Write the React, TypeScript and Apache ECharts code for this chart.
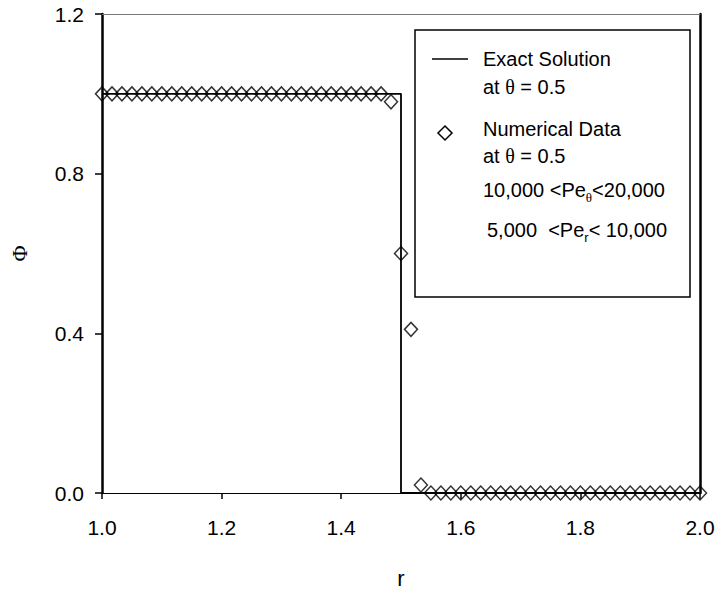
import React, { useEffect, useRef } from "react";
import * as echarts from "echarts";

// r grid positions of the numerical data
const rValues: number[] = [
  1.0, 1.0167, 1.0333, 1.05, 1.0667, 1.0833, 1.1, 1.1167, 1.1333, 1.15,
  1.1667, 1.1833, 1.2, 1.2167, 1.2333, 1.25, 1.2667, 1.2833, 1.3, 1.3167,
  1.3333, 1.35, 1.3667, 1.3833, 1.4, 1.4167, 1.4333, 1.45, 1.4667,
  1.4833, 1.5, 1.5167, 1.5333,
  1.55, 1.5667, 1.5833, 1.6, 1.6167, 1.6333, 1.65, 1.6667, 1.6833, 1.7,
  1.7167, 1.7333, 1.75, 1.7667, 1.7833, 1.8, 1.8167, 1.8333, 1.85, 1.8667,
  1.8833, 1.9, 1.9167, 1.9333, 1.95, 1.9667, 1.9833, 2.0,
];
// numerical Phi values at theta = 0.5
const phiNumerical: number[] = [
  1, 1, 1, 1, 1, 1, 1, 1, 1, 1,
  1, 1, 1, 1, 1, 1, 1, 1, 1, 1,
  1, 1, 1, 1, 1, 1, 1, 1, 1,
  0.98, 0.6, 0.41, 0.02,
  0, 0, 0, 0, 0, 0, 0, 0, 0, 0,
  0, 0, 0, 0, 0, 0, 0, 0, 0, 0,
  0, 0, 0, 0, 0, 0, 0, 0,
];
// exact (step) solution
const exactR: number[] = [1.0, 1.5, 1.5, 2.0];
const exactPhi: number[] = [1, 1, 0, 0];

const xTicks = { min: 1.0, max: 2.0, interval: 0.2 };
const yTicks = { min: 0.0, max: 1.2, interval: 0.4 };

const SANS = "'Liberation Sans', Arial, Helvetica, sans-serif";
const SERIF = "'Liberation Serif', 'DejaVu Serif', serif";

export default function App() {
  const ref = useRef<HTMLDivElement>(null);
  useEffect(() => {
    if (!ref.current) return;
    const chart = echarts.init(ref.current, undefined, { renderer: "svg" });
    const fmt = (v: number) => v.toFixed(1);
    const legendFont = 20;
    const subStyle = (family: string) => ({
      fontFamily: family,
      fontSize: 13,
      lineHeight: 13,
      verticalAlign: "bottom",
      fill: "#000",
      color: "#000",
    });
    const option: any = {
      animation: false,
      backgroundColor: "#fff",
      grid: { left: 99, right: 19, top: 14, bottom: 94 },
      xAxis: [
        {
          type: "value",
          min: xTicks.min,
          max: xTicks.max,
          interval: xTicks.interval,
          position: "bottom",
          name: "r",
          nameLocation: "middle",
          nameGap: 74,
          nameTextStyle: { fontFamily: SANS, fontSize: 22, color: "#000" },
          axisLine: { show: true, onZero: false, lineStyle: { color: "#000", width: 1.2 } },
          axisTick: { show: true, length: 6, lineStyle: { color: "#000", width: 1.5 } },
          axisLabel: { margin: 24, fontSize: 21, color: "#000", fontFamily: SANS, formatter: fmt },
          splitLine: { show: false },
        },
        {
          type: "value",
          min: xTicks.min,
          max: xTicks.max,
          position: "top",
          axisLine: { show: true, onZero: false, lineStyle: { color: "#777", width: 1 } },
          axisTick: { show: false },
          axisLabel: { show: false },
          splitLine: { show: false },
        },
      ],
      yAxis: [
        {
          type: "value",
          min: yTicks.min,
          max: yTicks.max,
          interval: yTicks.interval,
          position: "left",
          name: "Φ",
          nameLocation: "middle",
          nameGap: 72,
          nameRotate: 90,
          nameTextStyle: { fontFamily: SERIF, fontSize: 22, color: "#000" },
          axisLine: { show: true, onZero: false, lineStyle: { color: "#000", width: 2.5 } },
          axisTick: { show: true, length: 7, lineStyle: { color: "#000", width: 1.5 } },
          axisLabel: { margin: 18, fontSize: 21, color: "#000", fontFamily: SANS, formatter: fmt },
          splitLine: { show: false },
        },
        {
          type: "value",
          min: yTicks.min,
          max: yTicks.max,
          position: "right",
          axisLine: { show: true, onZero: false, lineStyle: { color: "#000", width: 2.5 } },
          axisTick: { show: false },
          axisLabel: { show: false },
          splitLine: { show: false },
        },
      ],
      series: [
        {
          name: "Exact Solution",
          type: "line",
          xAxisIndex: 0,
          yAxisIndex: 0,
          data: exactR.map((r, i) => [r, exactPhi[i]]),
          symbol: "none",
          lineStyle: { color: "#000", width: 1.8 },
          clip: false,
          z: 2,
        },
        {
          name: "Numerical Data",
          type: "scatter",
          xAxisIndex: 0,
          yAxisIndex: 0,
          data: rValues.map((r, i) => [r, phiNumerical[i]]),
          symbol: "diamond",
          symbolSize: [13, 14],
          itemStyle: { color: "rgba(0,0,0,0)", borderColor: "#000", borderWidth: 1.5 },
          clip: false,
          z: 3,
        },
      ],
      graphic: [
        {
          type: "group",
          z: 100,
          children: [
            {
              type: "rect",
              shape: { x: 415, y: 30, width: 275, height: 267 },
              style: { fill: "#fff", stroke: "#000", lineWidth: 1.5 },
            },
            {
              type: "line",
              shape: { x1: 432, y1: 59, x2: 468, y2: 59 },
              style: { stroke: "#000", lineWidth: 1.5 },
            },
            {
              type: "text",
              x: 483,
              y: 59,
              style: { text: "Exact Solution", fontFamily: SANS, fontSize: legendFont, fill: "#000", verticalAlign: "middle" },
            },
            {
              type: "text",
              x: 483,
              y: 87,
              style: {
                text: "at {t|θ} = 0.5",
                fontFamily: SANS,
                fontSize: legendFont,
                fill: "#000",
                verticalAlign: "middle",
                rich: { t: { fontFamily: SERIF, fontSize: legendFont, fill: "#000" } },
              },
            },
            {
              type: "polygon",
              shape: { points: [[445, 126], [452, 133], [445, 140], [438, 133]] },
              style: { fill: "none", stroke: "#000", lineWidth: 1.5 },
            },
            {
              type: "text",
              x: 483,
              y: 129,
              style: { text: "Numerical Data", fontFamily: SANS, fontSize: legendFont, fill: "#000", verticalAlign: "middle" },
            },
            {
              type: "text",
              x: 483,
              y: 156,
              style: {
                text: "at {t|θ} = 0.5",
                fontFamily: SANS,
                fontSize: legendFont,
                fill: "#000",
                verticalAlign: "middle",
                rich: { t: { fontFamily: SERIF, fontSize: legendFont, fill: "#000" } },
              },
            },
            {
              type: "text",
              x: 483,
              y: 190,
              style: {
                text: "10,000 <Pe{s|θ}<20,000",
                fontFamily: SANS,
                fontSize: legendFont,
                fill: "#000",
                lineHeight: 28,
                verticalAlign: "middle",
                rich: { s: subStyle(SERIF) },
              },
            },
            {
              type: "text",
              x: 487,
              y: 230,
              style: {
                text: "5,000  <Pe{s|r}< 10,000",
                fontFamily: SANS,
                fontSize: legendFont,
                fill: "#000",
                lineHeight: 28,
                verticalAlign: "middle",
                rich: { s: subStyle(SANS) },
              },
            },
          ],
        },
      ],
    };
    chart.setOption(option);
    return () => chart.dispose();
  }, []);
  return (
    <div
      ref={ref}
      style={{ position: "absolute", left: 0, top: 0, width: 719, height: 594 }}
    />
  );
}
